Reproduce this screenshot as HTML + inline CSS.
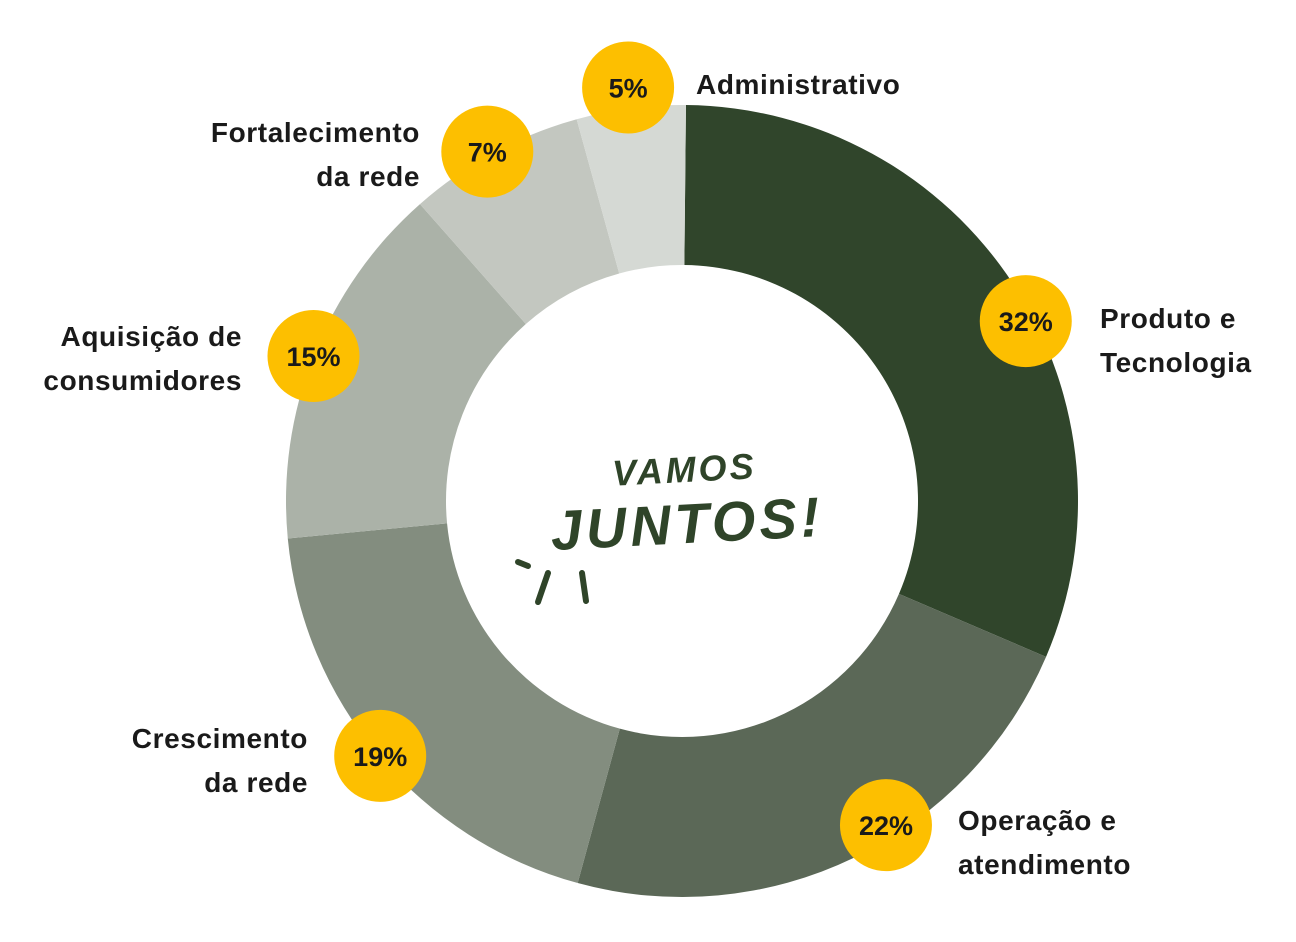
<!DOCTYPE html>
<html><head><meta charset="utf-8"><style>
html,body{margin:0;padding:0;background:#fff;}
svg{display:block;}
text{font-family:"Liberation Sans",sans-serif;}
</style></head><body>
<svg id="chart" width="1296" height="942" viewBox="0 0 1296 942">
<g id="slices"></g>
<g id="center">
<text x="685" y="482" text-anchor="middle" font-size="36" font-weight="bold" font-style="italic" fill="#2f4429" letter-spacing="3" transform="rotate(-3 685 482)">VAMOS</text>
<text x="688" y="543" text-anchor="middle" font-size="56" font-weight="bold" font-style="italic" fill="#2f4429" letter-spacing="4" transform="rotate(-3 688 543)">JUNTOS!</text>
<path d="M518 562 L528 566 M548 573 L538 602 M582 573 L586 601" stroke="#2f4429" stroke-width="6" stroke-linecap="round" fill="none"/>
</g>
<g id="labels"></g>
</svg>
<script>
const categories=["Produto e Tecnologia","Operação e atendimento","Crescimento da rede","Aquisição de consumidores","Fortalecimento da rede","Administrativo"];
const values=[32,22,19,15,7,5];
const colors=["#30452b","#5b6857","#838d7f","#abb2a8","#c3c7c0","#d5d9d4"];
const labelLines=[["Produto e","Tecnologia"],["Operação e","atendimento"],["Crescimento","da rede"],["Aquisição de","consumidores"],["Fortalecimento","da rede"],["Administrativo"]];
const labelPos=[[1100,318,"start"],[958,820,"start"],[308,738,"end"],[242,336,"end"],[420,132,"end"],[696,84,"start"]];
const boundaryShift=[-2.6,0.3,1.2,1.2,2.0,0];
const bubbleShift=[5.5,-6.4,-0.1,-0.1,-0.7,0];
const bubbleRad=[388,383,395,396,400,417];
const cx=682,cy=501,R=396,r=236,NS="http://www.w3.org/2000/svg";
const total=values.reduce((a,b)=>a+b,0);
const angle=(v,i)=>v/total*2*Math.PI+0.01+(i>=0?boundaryShift[i]*Math.PI/180:0);
const pt=(a,rad)=>[cx+rad*Math.sin(a),cy-rad*Math.cos(a)];
const sg=document.getElementById('slices'),lg=document.getElementById('labels');
let acc=0;
values.forEach((v,i)=>{
  const a0=angle(acc,i-1);acc+=v;const a1=angle(acc,i);
  const large=(a1-a0)>Math.PI?1:0;
  const [x0,y0]=pt(a0,R),[x1,y1]=pt(a1,R),[x2,y2]=pt(a1,r),[x3,y3]=pt(a0,r);
  const p=document.createElementNS(NS,'path');
  p.setAttribute('d',`M${x0} ${y0} A${R} ${R} 0 ${large} 1 ${x1} ${y1} L${x2} ${y2} A${r} ${r} 0 ${large} 0 ${x3} ${y3} Z`);
  p.setAttribute('fill',colors[i]);
  
  
  sg.appendChild(p);
  const [bx,by]=pt((a0+a1)/2+bubbleShift[i]*Math.PI/180,bubbleRad[i]);
  const c=document.createElementNS(NS,'circle');
  c.setAttribute('cx',bx);c.setAttribute('cy',by);c.setAttribute('r',46);c.setAttribute('fill','#fdbf00');
  
  
  lg.appendChild(c);
  const t=document.createElementNS(NS,'text');
  t.setAttribute('x',bx);t.setAttribute('y',by+10);t.setAttribute('text-anchor','middle');
  t.setAttribute('font-size','27');t.setAttribute('font-weight','bold');t.setAttribute('fill','#1a1a1a');
  t.textContent=v+'%';
  
  
  lg.appendChild(t);
  const [lx,ly,anc]=labelPos[i];
  labelLines[i].forEach((ln,j)=>{
    const tt=document.createElementNS(NS,'text');
    tt.setAttribute('x',lx);tt.setAttribute('y',ly+10+j*44);tt.setAttribute('text-anchor',anc);
    tt.setAttribute('font-size','28');tt.setAttribute('font-weight','bold');tt.setAttribute('fill','#1a1a1a');
    tt.setAttribute('letter-spacing','0.6');
    tt.textContent=ln;
    
    
    lg.appendChild(tt);
  });
});
</script>
</body></html>
